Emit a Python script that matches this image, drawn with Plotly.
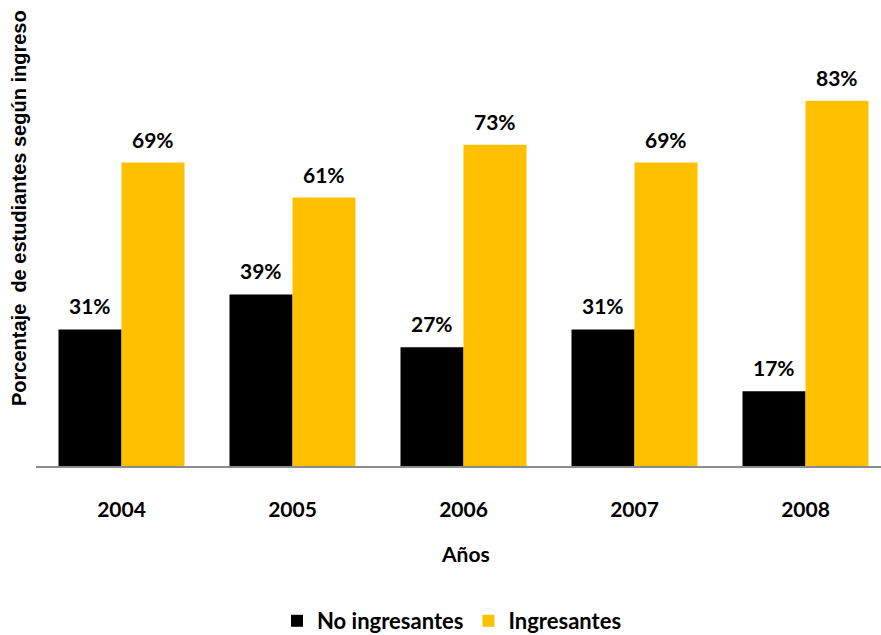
import plotly.graph_objects as go

years = ["2004", "2005", "2006", "2007", "2008"]
no_ingresantes = [31, 39, 27, 31, 17]
ingresantes = [69, 61, 73, 69, 83]

BARGAP = 0.263
half = (1 - BARGAP) / 4

fig = go.Figure()
fig.add_trace(go.Bar(x=years, y=no_ingresantes, name="No ingresantes",
                     marker=dict(color="#000000", line=dict(width=0))))
fig.add_trace(go.Bar(x=years, y=ingresantes, name="Ingresantes",
                     marker=dict(color="#FFC000", line=dict(width=0))))

FAM = "Lato, Calibri, sans-serif"
lab_font = dict(family=FAM, size=21, color="#000000", weight="bold")
for i, (a, b) in enumerate(zip(no_ingresantes, ingresantes)):
    fig.add_annotation(x=i - half, y=a, xref="x", yref="y", text=f"{a}%",
                       showarrow=False, yanchor="middle", yshift=24, font=lab_font)
    fig.add_annotation(x=i + half, y=b, xref="x", yref="y", text=f"{b}%",
                       showarrow=False, yanchor="middle", yshift=23, font=lab_font)

fig.add_annotation(text="Porcentaje  de estudiantes según ingreso",
                   xref="paper", yref="paper", x=-(36 - 19) / 845, y=(466 - 208) / 396,
                   textangle=-90, showarrow=False, xanchor="center", yanchor="middle",
                   font=dict(family="Liberation Sans, Arial, sans-serif", size=20,
                             color="#000000", weight="bold"))
fig.add_annotation(text="Años", xref="paper", yref="paper",
                   x=(465 - 36) / 845, y=-(553 - 466) / 396, showarrow=False,
                   xanchor="center", yanchor="middle",
                   font=dict(family=FAM, size=21, color="#000000", weight="bold"))

fig.update_layout(
    width=881, height=635,
    margin=dict(l=36, r=0, t=70, b=169, autoexpand=False),
    paper_bgcolor="white", plot_bgcolor="white",
    barmode="group", bargap=BARGAP, bargroupgap=0,
    showlegend=True,
    legend=dict(orientation="h", x=(452 - 36) / 845, xanchor="center",
                y=-(621 - 466) / 396, yanchor="middle",
                font=dict(family=FAM, size=22, color="#000000", weight="bold"),
                itemwidth=30, traceorder="normal"),
    xaxis=dict(type="category", range=[-0.5, -0.5 + 845 / 171], automargin=False,
               showline=True, linecolor="#8c8c8c", linewidth=2,
               showgrid=False, ticks="", ticklabelstandoff=24,
               tickfont=dict(family=FAM, size=21, color="#000000", weight="bold")),
    yaxis=dict(range=[0, 90], showline=False, showgrid=False, zeroline=False,
               showticklabels=False, ticks="", automargin=False),
)
fig.write_html("out.html", config={"displayModeBar": False},
               post_script="document.body.style.margin='0';document.body.style.overflow='hidden';")
